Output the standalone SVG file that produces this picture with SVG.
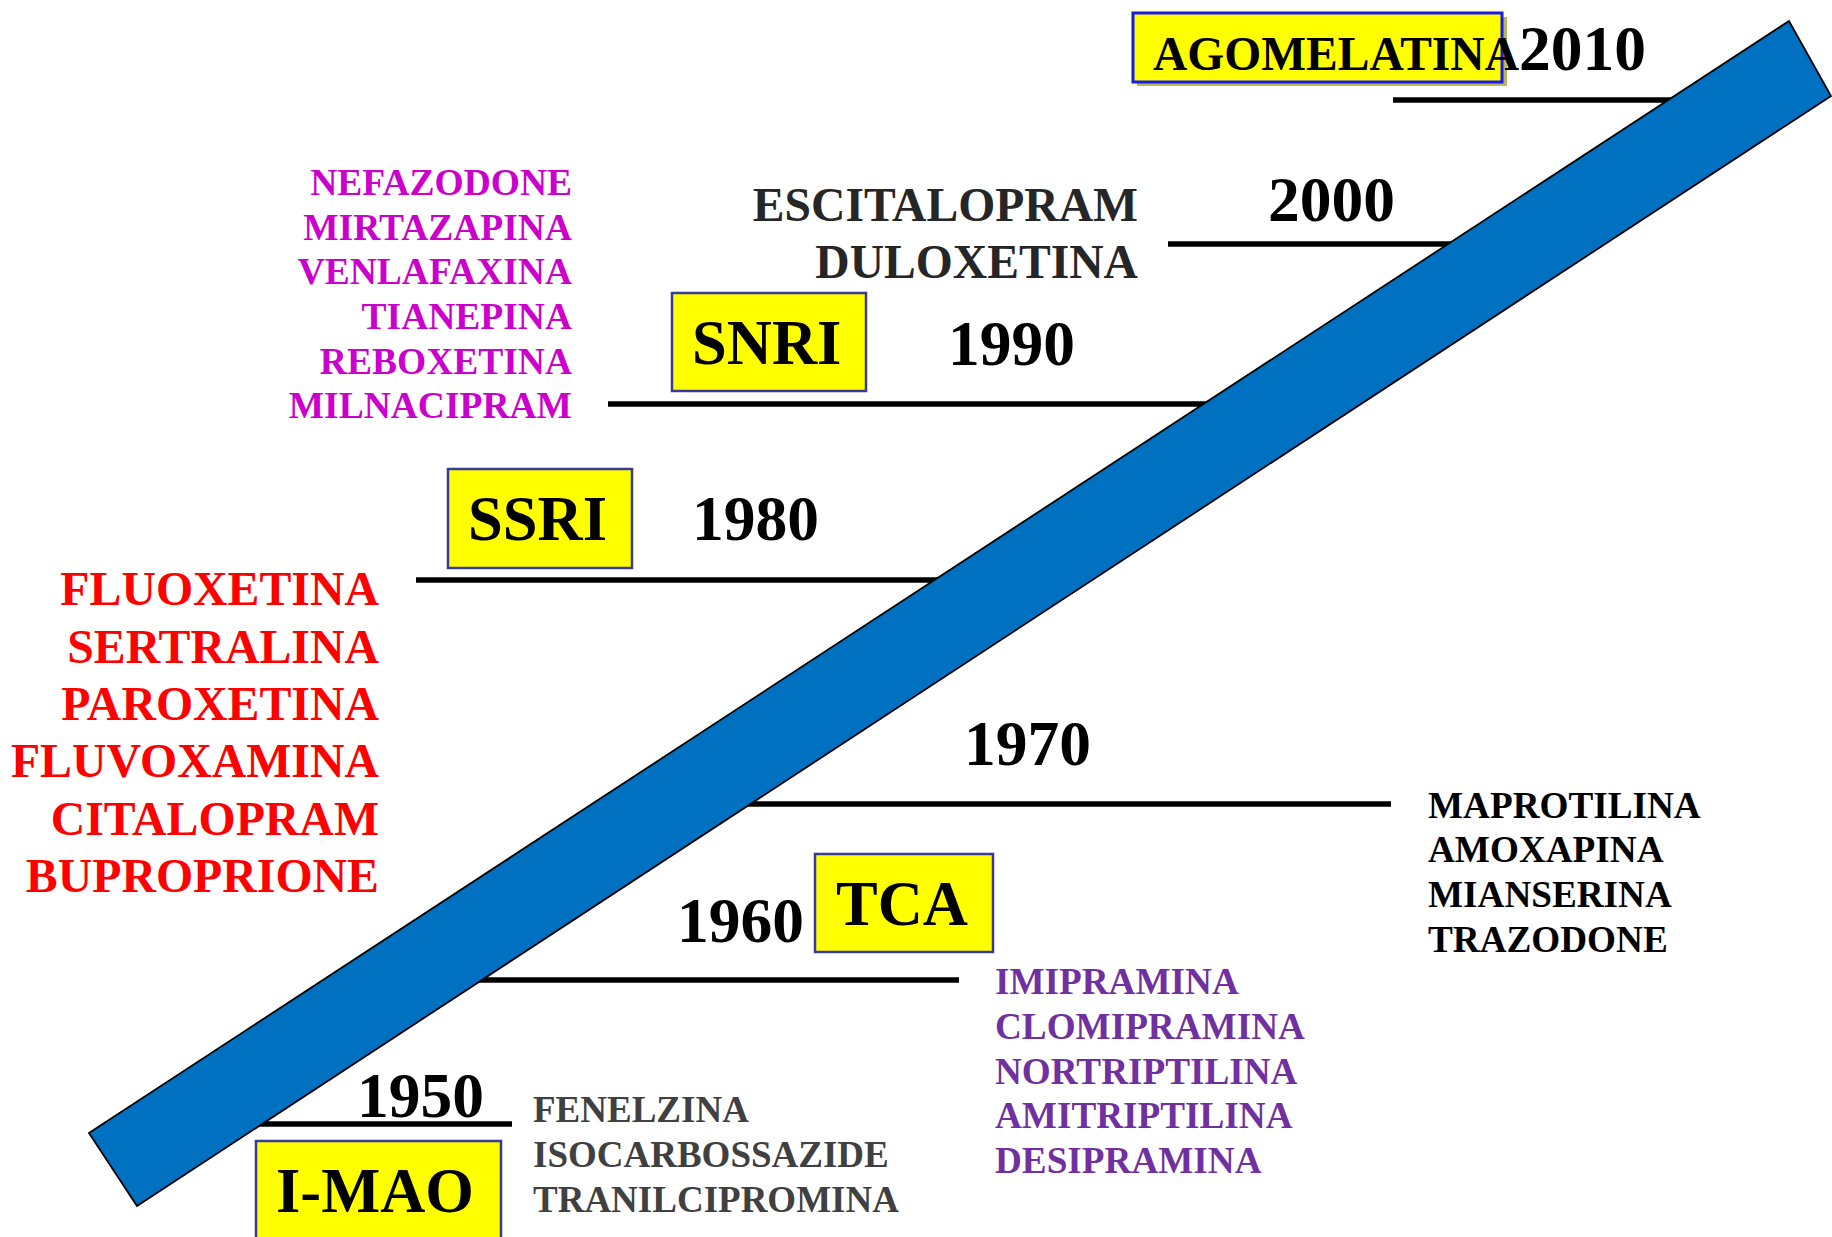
<svg xmlns="http://www.w3.org/2000/svg" width="1832" height="1237" viewBox="0 0 1832 1237">
  <style>
    text { font-family: "Liberation Serif", "Times New Roman", serif; font-weight: bold; }
    .year { font-size: 63.5px; fill: #000; }
    .cls { font-size: 62.5px; fill: #000; }
    .tick { stroke: #000; stroke-width: 5.5; fill: none; }
    .box { fill: #ffff00; stroke: #3a3a9a; stroke-width: 2.5; }
    .magenta { font-size: 37.5px; fill: #cc00cc; text-anchor: end; }
    .red { font-size: 47.8px; fill: #ff0000; text-anchor: end; }
    .dark { font-size: 47.6px; fill: #262626; text-anchor: end; }
    .gray { font-size: 37px; fill: #404040; }
    .purple { font-size: 37.2px; fill: #7030a0; }
    .black { font-size: 37.2px; fill: #000; }
  </style>

  <rect width="1832" height="1237" fill="#ffffff"/>

  <!-- decade tick lines (drawn beneath the timeline band) -->
  <g id="connectors">
    <line class="tick" x1="1393" y1="100" x2="1700" y2="100"/>
    <line class="tick" x1="1168" y1="244" x2="1500" y2="244"/>
    <line class="tick" x1="608" y1="404" x2="1250" y2="404"/>
    <line class="tick" x1="416" y1="580" x2="1000" y2="580"/>
    <line class="tick" x1="650" y1="804" x2="1391" y2="804"/>
    <line class="tick" x1="400" y1="980" x2="959" y2="980"/>
    <line class="tick" x1="200" y1="1124" x2="512" y2="1124"/>
  </g>

  <!-- timeline band -->
  <g id="timeline">
    <polygon points="89,1133 1789,21 1831,96 137,1206" fill="#0070c0" stroke="#000" stroke-width="1.8" stroke-linejoin="miter"/>
  </g>

  <!-- 2010 -->
  <g id="agomelatina">
    <rect x="1130" y="10" width="375" height="75" fill="#ffffd8"/>
    <rect x="1137" y="17" width="370" height="69" fill="#b8b858"/>
    <rect x="1133" y="13" width="369" height="69" fill="#ffff00" stroke="#1a1aee" stroke-width="3"/>
    <text x="1153" y="70" font-size="47.5">AGOMELATINA</text>
  </g>
  <g id="y2010"><text class="year" x="1519" y="70" font-size="64">2010</text></g>

  <!-- 2000 -->
  <g id="y2000"><text class="year" x="1268" y="221">2000</text></g>
  <g id="drugs2000">
    <text class="dark" x="1138" y="221">ESCITALOPRAM</text>
    <text class="dark" x="1138" y="278">DULOXETINA</text>
  </g>

  <!-- 1990 -->
  <g id="snri">
    <rect class="box" x="672" y="293" width="194" height="98"/>
    <text class="cls" x="692" y="364">SNRI</text>
  </g>
  <g id="y1990"><text class="year" x="948" y="365">1990</text></g>
  <g id="drugs1990">
    <text class="magenta" x="572" y="195">NEFAZODONE</text>
    <text class="magenta" x="572" y="240">MIRTAZAPINA</text>
    <text class="magenta" x="572" y="284">VENLAFAXINA</text>
    <text class="magenta" x="572" y="329">TIANEPINA</text>
    <text class="magenta" x="572" y="374">REBOXETINA</text>
    <text class="magenta" x="572" y="418">MILNACIPRAM</text>
  </g>

  <!-- 1980 -->
  <g id="ssri">
    <rect class="box" x="448" y="469" width="184" height="99"/>
    <text class="cls" x="468" y="540">SSRI</text>
  </g>
  <g id="y1980"><text class="year" x="692" y="540">1980</text></g>
  <g id="drugs1980">
    <text class="red" x="379" y="605">FLUOXETINA</text>
    <text class="red" x="379" y="663">SERTRALINA</text>
    <text class="red" x="379" y="720">PAROXETINA</text>
    <text class="red" x="379" y="777">FLUVOXAMINA</text>
    <text class="red" x="379" y="835">CITALOPRAM</text>
    <text class="red" x="379" y="892">BUPROPRIONE</text>
  </g>

  <!-- 1970 -->
  <g id="y1970"><text class="year" x="964" y="765">1970</text></g>
  <g id="drugs1970">
    <text class="black" x="1428" y="818">MAPROTILINA</text>
    <text class="black" x="1428" y="862">AMOXAPINA</text>
    <text class="black" x="1428" y="907">MIANSERINA</text>
    <text class="black" x="1428" y="952">TRAZODONE</text>
  </g>

  <!-- 1960 -->
  <g id="y1960"><text class="year" x="677" y="942">1960</text></g>
  <g id="tca">
    <rect class="box" x="815" y="854" width="178" height="98"/>
    <text class="cls" x="836" y="925">TCA</text>
  </g>
  <g id="drugs1960">
    <text class="purple" x="995" y="994">IMIPRAMINA</text>
    <text class="purple" x="995" y="1039">CLOMIPRAMINA</text>
    <text class="purple" x="995" y="1084">NORTRIPTILINA</text>
    <text class="purple" x="995" y="1128">AMITRIPTILINA</text>
    <text class="purple" x="995" y="1173">DESIPRAMINA</text>
  </g>

  <!-- 1950 -->
  <g id="y1950"><text class="year" x="357" y="1117">1950</text></g>
  <g id="imao">
    <rect class="box" x="256" y="1141" width="245" height="110"/>
    <text class="cls" x="276" y="1212">I-MAO</text>
  </g>
  <g id="drugs1950">
    <text class="gray" x="533" y="1122">FENELZINA</text>
    <text class="gray" x="533" y="1167">ISOCARBOSSAZIDE</text>
    <text class="gray" x="533" y="1212">TRANILCIPROMINA</text>
  </g>
</svg>
